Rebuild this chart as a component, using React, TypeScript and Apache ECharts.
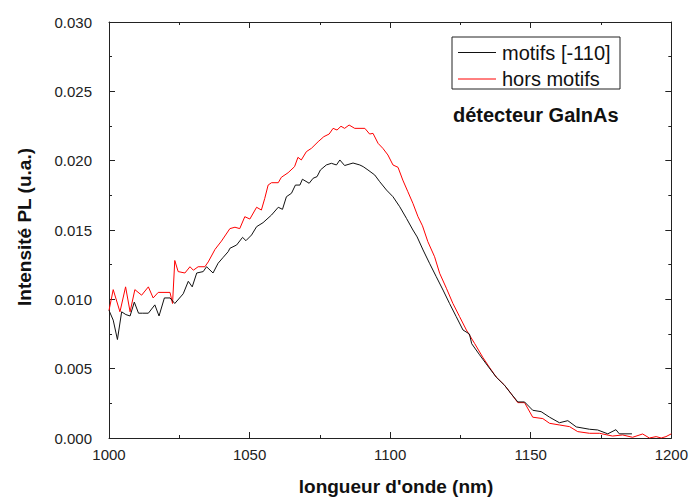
import React, { useEffect, useRef } from "react";
import * as echarts from "echarts";

const xTicks = [1000, 1050, 1100, 1150, 1200];
const yTicks = [0, 0.005, 0.01, 0.015, 0.02, 0.025, 0.03];

const seriesNames = ["motifs [-110]", "hors motifs"];
const seriesColors = ["#111111", "#ff0000"];

const blackX = [
  1000, 1001.5, 1003, 1004.5, 1006, 1007.5, 1009, 1010.5, 1012, 1014, 1016.3, 1017.8, 1019.7, 1021.7,
  1023.4, 1026.4, 1028.2, 1029.6, 1031.2, 1033.5, 1034.7, 1037, 1038.8, 1040.5, 1042.4, 1043, 1045.4,
  1047.5, 1048.7, 1050.7, 1052.5, 1054.8, 1057.8, 1060.2, 1061.7, 1063.1, 1064.9, 1066.3, 1067.9, 1068.8,
  1071.2, 1072.6, 1074, 1075.2, 1077.3, 1079.1, 1080.9, 1082.1, 1083.8, 1086.8, 1089.2, 1090.4, 1092.1,
  1094.5, 1096.3, 1098.7, 1101, 1103.4, 1105.8, 1108.1, 1109.6, 1111.7, 1114, 1116.4, 1118.8, 1121.1,
  1123.5, 1125.9, 1128.2, 1129, 1131.8, 1134.7, 1137.7, 1140.7, 1143, 1145.4, 1147.8, 1150.7, 1153.7,
  1156.7, 1160.2, 1163.2, 1166.2, 1170.9, 1173.8, 1177.4, 1180.3, 1181.5, 1186,
];
const blackY = [
  0.0092, 0.0085, 0.0071, 0.0091, 0.0089, 0.0088, 0.0098, 0.009, 0.009, 0.009, 0.0096, 0.0088, 0.0101, 0.0101,
  0.0097, 0.0104, 0.0113, 0.0109, 0.0119, 0.012, 0.01235, 0.0119, 0.0126, 0.013, 0.01344, 0.01368, 0.01392,
  0.01447, 0.01423, 0.01464, 0.01524, 0.01553, 0.01608, 0.01664, 0.01649, 0.0174, 0.01765, 0.01824, 0.01824, 0.01866,
  0.01837, 0.01873, 0.01885, 0.01933, 0.01969, 0.01981, 0.01969, 0.02005, 0.01965, 0.01983, 0.01969, 0.01957, 0.01933,
  0.01897, 0.01848, 0.01788, 0.0174, 0.01668, 0.01584, 0.015, 0.0145, 0.01356, 0.0126, 0.01163, 0.01067, 0.00971,
  0.00875, 0.00779, 0.0075, 0.0068, 0.006, 0.0052, 0.0044, 0.0038, 0.0032, 0.0026, 0.0026, 0.002, 0.0019,
  0.0015, 0.0011, 0.00125, 0.0008, 0.00063, 0.00058, 0.0003, 0.0006, 0.0003, 0.0003,
];

const redX = [
  1000, 1001.5, 1003.9, 1005.9, 1007.5, 1009.2, 1011.6, 1014, 1015.7, 1017.5, 1021.7, 1022.6, 1023.4, 1024.6,
  1027, 1028.8, 1030, 1031.7, 1034.1, 1035.3, 1037.7, 1040, 1043, 1044.8, 1046.5, 1048.3, 1050.1, 1052.5,
  1054.2, 1055.4, 1056.6, 1057.8, 1060.2, 1061.3, 1063.7, 1066, 1067.2, 1068.4, 1070.2, 1072, 1074.4, 1076.4,
  1078.3, 1079.7, 1081.1, 1082.5, 1083.8, 1085.4, 1087.4, 1091, 1092.7, 1093.9, 1095.7, 1097.4, 1099.2, 1101,
  1102.8, 1104.5, 1106.3, 1108.1, 1109.9, 1111.5, 1113.4, 1115.8, 1117.6, 1120, 1122.3, 1124.7, 1127.1, 1130,
  1133, 1135.3, 1137.7, 1140.7, 1143, 1145.4, 1147.8, 1150.7, 1154.3, 1156.7, 1160.2, 1163.8, 1166.7, 1170.9,
  1174.4, 1179.1, 1182.7, 1186.2, 1189.8, 1192.2, 1194.6, 1196.4, 1198.1, 1200,
];
const redY = [
  0.0092, 0.0107, 0.0091, 0.0109, 0.0091, 0.0107, 0.0103, 0.0109, 0.0101, 0.0105, 0.0105, 0.0097, 0.0128, 0.012,
  0.0119, 0.01235, 0.0121, 0.01235, 0.01235, 0.0127, 0.0136, 0.0142, 0.0151, 0.0152, 0.0151, 0.01596, 0.01579, 0.01664,
  0.01644, 0.01728, 0.01824, 0.01841, 0.01841, 0.0188, 0.01913, 0.01957, 0.02024, 0.02005, 0.02065, 0.02089, 0.02137, 0.02173,
  0.02192, 0.02233, 0.02221, 0.02248, 0.02233, 0.02257, 0.02233, 0.02233, 0.02192, 0.02197, 0.02125, 0.02089, 0.02041, 0.01969,
  0.01952, 0.0186, 0.01776, 0.01692, 0.01596, 0.0153, 0.01416, 0.01307, 0.01188, 0.0108, 0.00971, 0.00875, 0.00779, 0.00683,
  0.0058, 0.0051, 0.0044, 0.0038, 0.0032, 0.00255, 0.00255, 0.0015, 0.0014, 0.00106, 0.00094, 0.00082, 0.00046, 0.00034,
  0.00034, 0.00014, 0.00022, 0.00005, 0.00029, 0.0, 0.0001, 0.0, 0.0001, 0.0003,
];

const FONT = "'Liberation Sans', Arial, sans-serif";
const AXIS_COLOR = "#222";

function zip(xs: number[], ys: number[]) {
  return xs.map((x, i) => [x, ys[i]]);
}

export default function App() {
  const ref = useRef<HTMLDivElement>(null);
  useEffect(() => {
    if (!ref.current) return;
    const chart = echarts.init(ref.current, undefined, { renderer: "svg" });
    const xMin = xTicks[0];
    const xMax = xTicks[xTicks.length - 1];
    const yMin = yTicks[0];
    const yMax = yTicks[yTicks.length - 1];
    const axisCommon = {
      axisLine: { show: true, onZero: false, lineStyle: { color: AXIS_COLOR, width: 1 } },
      axisTick: { show: true, inside: true, length: 6, lineStyle: { color: AXIS_COLOR } },
      minorTick: { show: true, splitNumber: 2, length: 3, lineStyle: { color: AXIS_COLOR } },
      splitLine: { show: false },
    };

    const legendLeft = 452;
    const legendTop = 37;
    const rowY = [52.5, 79];
    const legendGraphics: any[] = [
      {
        type: "rect",
        shape: { x: legendLeft, y: legendTop, width: 168, height: 52 },
        style: { fill: "#fff", stroke: "#222", lineWidth: 1 },
        z: 10,
      },
    ];
    seriesNames.forEach((name, i) => {
      legendGraphics.push({
        type: "line",
        shape: { x1: legendLeft + 6, y1: rowY[i], x2: legendLeft + 44, y2: rowY[i] },
        style: { stroke: seriesColors[i], lineWidth: 1 },
        z: 11,
      });
      legendGraphics.push({
        type: "text",
        x: legendLeft + 50,
        y: rowY[i],
        style: {
          text: name,
          font: `20px ${FONT}`,
          fill: "#111",
          align: "left",
          verticalAlign: "middle",
        },
        z: 11,
      });
    });

    chart.setOption({
      animation: false,
      backgroundColor: "#fff",
      grid: { left: 109, right: 19, top: 22, bottom: 60, containLabel: false },
      xAxis: [
        {
          type: "value",
          min: xMin,
          max: xMax,
          interval: 50,
          position: "bottom",
          ...axisCommon,
          axisLabel: {
            color: "#222",
            fontSize: 15,
            fontFamily: FONT,
            margin: 9,
            formatter: (v: number) => String(v),
          },
        },
        {
          type: "value",
          min: xMin,
          max: xMax,
          interval: 50,
          position: "top",
          ...axisCommon,
          axisLabel: { show: false },
        },
      ],
      yAxis: [
        {
          type: "value",
          min: yMin,
          max: yMax,
          interval: 0.005,
          position: "left",
          ...axisCommon,
          axisLabel: {
            color: "#222",
            fontSize: 15,
            fontFamily: FONT,
            margin: 17,
            formatter: (v: number) => v.toFixed(3),
          },
        },
        {
          type: "value",
          min: yMin,
          max: yMax,
          interval: 0.005,
          position: "right",
          ...axisCommon,
          axisLabel: { show: false },
        },
      ],
      graphic: [
        ...legendGraphics,
        {
          type: "text",
          x: 453,
          y: 115,
          style: {
            text: "détecteur GaInAs",
            font: `bold 20px ${FONT}`,
            fill: "#111",
            align: "left",
            verticalAlign: "middle",
          },
        },
        {
          type: "text",
          x: 396,
          y: 486,
          style: {
            text: "longueur d'onde (nm)",
            font: `bold 19px ${FONT}`,
            fill: "#111",
            align: "center",
            verticalAlign: "middle",
          },
        },
        {
          type: "text",
          x: 24,
          y: 227,
          rotation: Math.PI / 2,
          style: {
            text: "Intensité PL (u.a.)",
            font: `bold 19px ${FONT}`,
            fill: "#111",
            align: "center",
            verticalAlign: "middle",
          },
        },
      ],
      series: [
        {
          name: seriesNames[0],
          type: "line",
          data: zip(blackX, blackY),
          showSymbol: false,
          symbol: "none",
          lineStyle: { color: seriesColors[0], width: 1 },
          itemStyle: { color: seriesColors[0] },
          z: 3,
        },
        {
          name: seriesNames[1],
          type: "line",
          data: zip(redX, redY),
          showSymbol: false,
          symbol: "none",
          lineStyle: { color: seriesColors[1], width: 1 },
          itemStyle: { color: seriesColors[1] },
          z: 2,
        },
      ],
    });
    return () => chart.dispose();
  }, []);
  return <div ref={ref} style={{ width: 691, height: 498, position: "absolute", left: 0, top: 0 }} />;
}
